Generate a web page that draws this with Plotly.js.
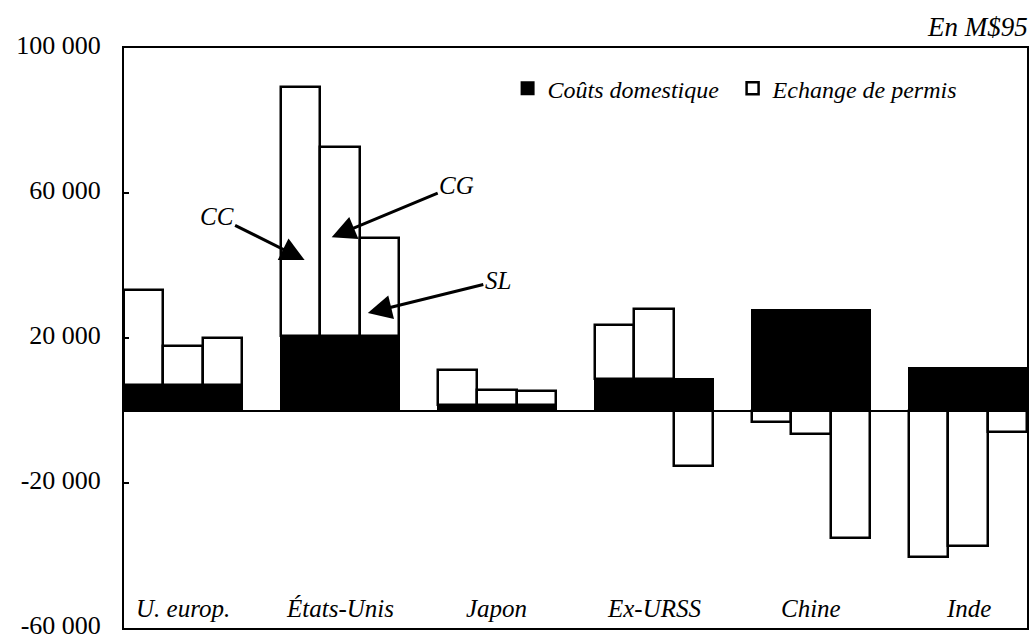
<!DOCTYPE html>
<html>
<head>
<meta charset="utf-8">
<script src="https://cdn.plot.ly/plotly-3.0.1.min.js"></script>
<style>html,body{margin:0;padding:0;background:#fff;}#chart{width:1033px;height:640px;}</style>
</head>
<body>
<div id="chart"></div>
<script>
// ---- data (values in M$95) ----
const regions = ["U. europ.", "États-Unis", "Japon", "Ex-URSS", "Chine", "Inde"];
const scenarios = ["CC", "CG", "SL"];
const domestic = [7000, 20500, 1500, 8600, 27600, 11600];
const exchangeCC = [26200, 68700, 9600, 15100, -3100, -40400];
const exchangeCG = [10700, 52100, 4100, 19300, -6600, -37400];
const exchangeSL = [13100, 27200, 3800, -15400, -35100, -6000];
const yTickVals = [-60000, -20000, 20000, 60000, 100000];
const yTickText = ["-60 000", "-20 000", "20 000", "60 000", "100 000"];

// ---- build bar positions: 3 bars per region, 1-slot gap between regions ----
const exchange = [exchangeCC, exchangeCG, exchangeSL];
const xs = [], dom = [], exc = [], hov = [];
regions.forEach((r, i) => {
  scenarios.forEach((s, j) => {
    xs.push(4 * i + j + 0.5);
    dom.push(domestic[i]);
    exc.push(exchange[j][i]);
    hov.push(r + " " + s);
  });
});

const serif = "Nimbus Roman";

const traces = [
  {type: "bar", name: "Coûts domestique", x: xs, y: dom, width: 1, text: hov, hoverinfo: "text+y", textposition: "none",
   marker: {color: "#000", line: {color: "#000", width: 2}}},
  {type: "bar", name: "Echange de permis", x: xs, y: exc, width: 1, text: hov, hoverinfo: "text+y", textposition: "none",
   marker: {color: "#fff", line: {color: "#000", width: 2.5}}}
];

const annotations = regions.map((r, i) => ({
  x: 4 * i + 1.5, y: -54500, xref: "x", yref: "y", text: r, showarrow: false,
  font: {family: serif, size: 25, color: "#000", style: "italic"}
}));
annotations.push({xref: "paper", yref: "paper", x: 1.003, y: 1.037, xanchor: "right", yanchor: "middle",
  text: "En M$95", showarrow: false, font: {family: serif, size: 27, color: "#000", style: "italic"}});
const arrows = [
  {t: "CC", x: 4.6, y: 41500, ax: -88, ay: -44},
  {t: "CG", x: 5.29, y: 47800, ax: 125, ay: -52},
  {t: "SL", x: 6.21, y: 26900, ax: 130, ay: -32}
];
arrows.forEach(a => annotations.push({
  x: a.x, y: a.y, xref: "x", yref: "y", text: a.t, showarrow: true, ax: a.ax, ay: a.ay,
  arrowhead: 2, arrowsize: 1.6, arrowwidth: 3, arrowcolor: "#000",
  font: {family: serif, size: 25, color: "#000", style: "italic"}
}));

const layout = {
  width: 1033, height: 640,
  margin: {l: 124, r: 6, t: 48, b: 12},
  paper_bgcolor: "#fff", plot_bgcolor: "#fff",
  barmode: "relative", bargap: 0,
  showlegend: true,
  legend: {orientation: "h", x: 0.4248, xanchor: "left", y: 0.93, yanchor: "middle",
    traceorder: "normal", entrywidth: 180, entrywidthmode: "pixels",
    font: {family: serif, size: 24, color: "#000", style: "italic"}, bgcolor: "rgba(0,0,0,0)"},
  xaxis: {range: [0, 23], showticklabels: false, ticks: "", showgrid: false, zeroline: false, automargin: false,
    showline: true, mirror: true, linecolor: "#000", linewidth: 2, fixedrange: true},
  yaxis: {range: [-60000, 100000], tickvals: yTickVals, ticktext: yTickText, ticks: "inside", ticklen: 5,
    tickwidth: 2, tickcolor: "#000", showgrid: false, zeroline: true, zerolinecolor: "#000", zerolinewidth: 2,
    showline: true, mirror: true, linecolor: "#000", linewidth: 2, ticklabelstandoff: 16, ticklabelshift: -3,
    automargin: false, ticklabeloverflow: "allow",
    tickfont: {family: serif, size: 26, color: "#000"}, fixedrange: true},
  annotations: annotations
};

Plotly.newPlot("chart", traces, layout, {displayModeBar: false});
</script>
</body>
</html>
